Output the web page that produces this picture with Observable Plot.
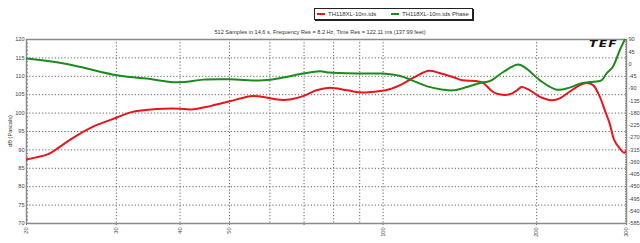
<!DOCTYPE html>
<html><head><meta charset="utf-8">
<script src="https://cdn.jsdelivr.net/npm/d3@7"></script>
<script src="https://cdn.jsdelivr.net/npm/@observablehq/plot@0.6"></script>
<style>
body{margin:0;background:#fff;font-family:"Liberation Sans",Arial,sans-serif;}
#wrap{position:relative;width:640px;height:243px;overflow:hidden;background:#fff;}
#legend{position:absolute;left:314px;top:8px;width:157px;height:10px;border:1px solid #222;box-shadow:1px 1px 0 #222;background:#fff;font-size:6px;color:#333;white-space:nowrap;}
#legend .it{position:absolute;top:1px;line-height:8px;}
#legend .sw{display:inline-block;width:8px;height:2px;vertical-align:middle;margin-right:3px;}
#title{position:absolute;left:0;width:640px;top:29px;text-align:center;font-size:5.6px;color:#333;}
#ylab{position:absolute;left:10px;top:131px;transform:translate(-50%,-50%) rotate(-90deg);font-size:5.6px;color:#333;white-space:nowrap;}
#logo{position:absolute;left:589px;top:40px;font-size:9px;font-weight:900;font-style:italic;color:#111;letter-spacing:1px;transform:scaleX(1.35);transform-origin:left top;font-family:"DejaVu Sans",sans-serif;line-height:9px;}
</style></head><body><div id="wrap"></div>
<script>
// ---- data ----
const splFreqHz = [20, 22, 22.5, 24.5, 26.7, 28.5, 30.1, 32, 36, 40, 42, 45.8, 50, 55, 57.4, 62.8, 65.7, 69.7, 74, 78.7, 85, 91, 98.6, 103, 109, 116, 123, 129, 137, 143, 152, 157, 164, 169, 177, 183, 187, 194, 203, 214, 222, 232, 243, 250, 258, 266, 272, 278, 284, 291, 297, 300];
const splDb = [87.4, 88.8, 89.5, 93, 96.0, 97.6, 98.8, 100.2, 101.1, 101.2, 101.0, 101.9, 103.2, 104.6, 104.5, 103.6, 103.7, 104.6, 106.2, 106.9, 106.2, 105.6, 106, 106.5, 107.9, 110, 111.5, 110.9, 109.8, 108.9, 108.7, 108.2, 105.8, 105.1, 105.1, 106.2, 107.1, 106.2, 104.4, 103.5, 104, 105.8, 107.6, 108.2, 107.6, 104.4, 100.8, 97.2, 92.6, 90.4, 89.2, 89.8];
const phaseFreqHz = [20, 23.7, 30.1, 32, 34.4, 38.3, 40.6, 44.4, 50.1, 58.3, 63.7, 69.7, 75.2, 78.7, 91.3, 99.9, 108, 114, 122, 131, 137, 146, 155, 162, 172, 184, 191, 203, 219, 232, 243, 254, 268, 274, 282, 291, 298];
const phaseDeg = [20, 1.7, -41.4, -47.6, -53.5, -66, -66, -57.2, -56.1, -59.8, -49.8, -35.1, -26.7, -31.4, -35.1, -35.1, -44, -59.8, -81.9, -94, -96.6, -84.4, -69.7, -62.4, -29.2, -2, -16.7, -59.8, -94, -86.6, -71.9, -66, -59.8, -35.1, -10.8, 50.6, 92];
const xTickLabels = [20, 30, 40, 50, 70, 100, 200, 300];
const xGridHz = [30, 40, 50, 60, 70, 80, 90, 100, 200];
const dbTicks = [70, 75, 80, 85, 90, 95, 100, 105, 110, 115, 120];
const phaseTicks = [90, 45, 0, -45, -90, -135, -180, -225, -270, -315, -360, -405, -450, -495, -540, -585];
const seriesNames = ["TH118XL-10m.tds", "TH118XL-10m.tds Phase"];
const seriesColors = ["#e8161c", "#1c8a1c"];
const titleText = "512 Samples in 14.6 s, Frequency Res = 8.2 Hz, Time Res = 122.11 ms (137.99 feet)";
const yLabelText = "dB (Pascals)";
const logoText = "TEF";

// ---- mapping phase onto the dB scale (secondary axis) ----
const dbMin = 70, dbMax = 120, phMax = 90, phMin = -585;
const phToDb = p => dbMin + (p - phMin) / (phMax - phMin) * (dbMax - dbMin);
const dbToPh = d => phMin + (d - dbMin) / (dbMax - dbMin) * (phMax - phMin);

const spl = splFreqHz.map((f, i) => ({f, v: splDb[i]}));
const phase = phaseFreqHz.map((f, i) => ({f, v: phToDb(phaseDeg[i])}));
const dbMinor = d3.range(dbMin, dbMax + 0.01, 1);
const phMinor = d3.range(phMin, phMax + 0.01, 9).map(phToDb);
const phTickPos = phaseTicks.map(phToDb);

const fs = 5.6;
const blank = () => "";
const chart = Plot.plot({
  width: 640, height: 243,
  marginLeft: 26, marginRight: 14, marginTop: 39, marginBottom: 20,
  style: {fontFamily: "Liberation Sans, Arial, sans-serif", fontSize: fs + "px", color: "#333", background: "transparent"},
  x: {type: "log", domain: [20, 300]},
  y: {domain: [dbMin, dbMax]},
  marks: [
    Plot.gridY(dbTicks.slice(1, -1), {stroke: "#555", strokeOpacity: 0.9, strokeDasharray: "1.2,2"}),
    Plot.gridX(xGridHz, {stroke: "#555", strokeOpacity: 0.9, strokeDasharray: "1.2,2"}),
    Plot.axisY(dbMinor, {anchor: "left", tickSize: 2, dx: 2, tickFormat: blank, label: null, stroke: "#777"}),
    Plot.axisY(dbTicks, {anchor: "left", tickSize: 0, tickPadding: 2, tickFormat: d => String(d), label: null, fontSize: fs, fill: "#444"}),
    Plot.axisY(phMinor, {anchor: "right", tickSize: 2, dx: -2, tickFormat: blank, label: null, stroke: "#777"}),
    Plot.axisY(phTickPos, {anchor: "right", tickSize: 0, tickPadding: 2, tickFormat: d => String(Math.round(dbToPh(d))), label: null, fontSize: fs, fill: "#444"}),
    Plot.axisX(xTickLabels, {anchor: "bottom", tickSize: 2, tickPadding: 2, tickRotate: -90, tickFormat: d => String(d), label: null, fontSize: fs, fill: "#444", stroke: "#666"}),
    Plot.frame({stroke: "#8a8a8a", strokeWidth: 1.5}),
    Plot.line(spl, {x: "f", y: "v", stroke: seriesColors[0], strokeWidth: 2, curve: "catmull-rom", clip: true}),
    Plot.line(phase, {x: "f", y: "v", stroke: seriesColors[1], strokeWidth: 2, curve: "catmull-rom", clip: true})
  ]
});

const wrap = document.getElementById("wrap");
wrap.appendChild(chart);
chart.style.position = "absolute"; chart.style.left = "0"; chart.style.top = "0";

const legend = document.createElement("div");
legend.id = "legend";
const positions = [2, 76];
seriesNames.forEach((n, i) => {
  const it = document.createElement("div");
  it.className = "it"; it.style.left = positions[i] + "px";
  const sw = document.createElement("span"); sw.className = "sw"; sw.style.background = seriesColors[i];
  it.appendChild(sw); it.appendChild(document.createTextNode(n));
  legend.appendChild(it);
});
wrap.appendChild(legend);

const t = document.createElement("div"); t.id = "title"; t.textContent = titleText; wrap.appendChild(t);
const yl = document.createElement("div"); yl.id = "ylab"; yl.textContent = yLabelText; wrap.appendChild(yl);
const lg = document.createElement("div"); lg.id = "logo"; lg.textContent = logoText; wrap.appendChild(lg);
</script>
</body></html>
